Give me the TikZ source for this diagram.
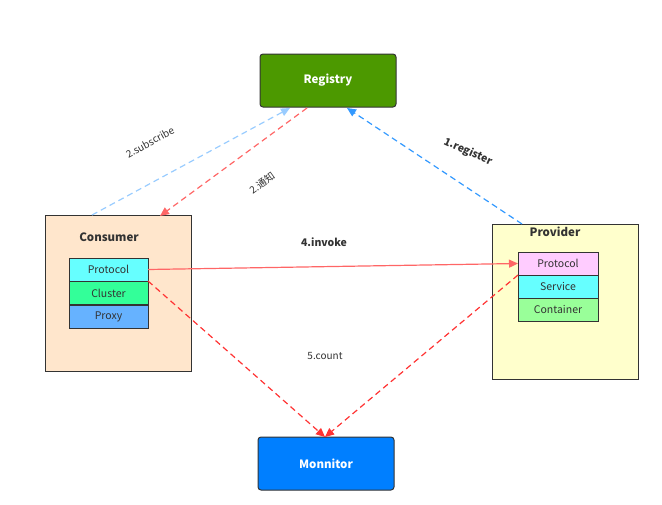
\documentclass[tikz,border=0pt]{standalone}
\usepackage{fontspec}
\setmainfont{Noto Sans CJK SC}
\usetikzlibrary{arrows.meta,calc}
\definecolor{reggreen}{HTML}{4C9900}
\definecolor{monblue}{HTML}{007FFF}
\definecolor{conbg}{HTML}{FFE6CC}
\definecolor{provbg}{HTML}{FFFFCC}
\definecolor{cyanbox}{HTML}{66FFFF}
\definecolor{greenbox}{HTML}{33FF99}
\definecolor{bluebox}{HTML}{66B2FF}
\definecolor{pinkbox}{HTML}{FFCCFF}
\definecolor{lgreenbox}{HTML}{99FF99}
\definecolor{lblue}{HTML}{99CCFF}
\definecolor{mblue}{HTML}{3399FF}
\definecolor{lred}{HTML}{FF6666}
\definecolor{dred}{HTML}{FF3333}
\definecolor{edge}{HTML}{333333}
\begin{document}
\begin{tikzpicture}[x=1pt,y=-1pt,
  every node/.style={inner sep=0pt,outer sep=0pt},
  mainbox/.style={draw=edge,line width=1pt,rounded corners=3pt,minimum width=136pt,minimum height=53pt,text=white,font=\bfseries\fontsize{11.5}{13}\selectfont},
  outerbox/.style={draw=edge,line width=1pt,anchor=north west},
  layerbox/.style={draw=edge,line width=1pt,minimum width=79pt,minimum height=23pt,font=\fontsize{10.5}{12}\selectfont,text=black!80},
  dashln/.style={line width=1.2pt,dash pattern=on 6pt off 4pt},
  tip/.style={-{Triangle[length=9pt,width=8pt]}},
  lbl/.style={font=\fontsize{10}{12}\selectfont,text=black!80}
]
\useasboundingbox (0,0) rectangle (662,504);
% boxes
\node[mainbox,fill=reggreen] (reg) at (328,80.5) {Registry};
\node[mainbox,fill=monblue] (mon) at (326,463.5) {Monnitor};
\node[outerbox,fill=conbg,minimum width=146pt,minimum height=156pt] (con) at (45,215) {};
\node[outerbox,fill=provbg,minimum width=146pt,minimum height=155pt] (prov) at (492,224) {};
\node[font=\bfseries\fontsize{11.5}{13}\selectfont,text=black!80] (conlbl) at (109,237) {Consumer};
\node[font=\bfseries\fontsize{11.5}{13}\selectfont,text=black!80] (provlbl) at (555,232) {Provider};
% consumer layers
\node[layerbox,fill=cyanbox] (cproto) at (108.5,269.5) {Protocol};
\node[layerbox,fill=greenbox] (cclus) at (108.5,293) {Cluster};
\node[layerbox,fill=bluebox] (cproxy) at (108.5,316.5) {Proxy};
% provider layers
\node[layerbox,fill=pinkbox,minimum width=80pt] (pproto) at (558,263.5) {Protocol};
\node[layerbox,fill=cyanbox,minimum width=80pt] (pserv) at (558,286.5) {Service};
\node[layerbox,fill=lgreenbox,minimum width=80pt] (pcont) at (558,309.5) {Container};
% anchor points
\coordinate (c1) at (92,215);
\coordinate (r1) at (290,108);
\coordinate (r2) at (307,108);
\coordinate (c2) at (160,216);
\coordinate (p1) at (522,224);
\coordinate (r3) at (347,108);
\coordinate (m1) at (325,437);
% connectors
\draw[dashln,lblue,tip] (c1) -- (r1);
\draw[dashln,lred,tip] (r2) -- (c2);
\draw[dashln,mblue,tip] (p1) -- (r3);
\draw[line width=1.2pt,lred,tip] (cproto.east) -- (pproto.west);
\draw[dashln,dred,tip] (cproto.south east) -- (m1);
\draw[dashln,dred,tip] (pproto.south west) -- (m1);
% labels
\node[lbl,rotate=29] (lsub) at (150,142) {2.subscribe};
\node[lbl,rotate=36] (lnot) at (262,183) {2.通知};
\node[lbl,font=\bfseries\fontsize{10.5}{12}\selectfont,rotate=-24] (lreg) at (468,152) {1.register};
\node[lbl,font=\bfseries\fontsize{10.5}{12}\selectfont] (linv) at (324,242) {4.invoke};
\node[lbl] (lcnt) at (325,356) {5.count};
\end{tikzpicture}
\end{document}
